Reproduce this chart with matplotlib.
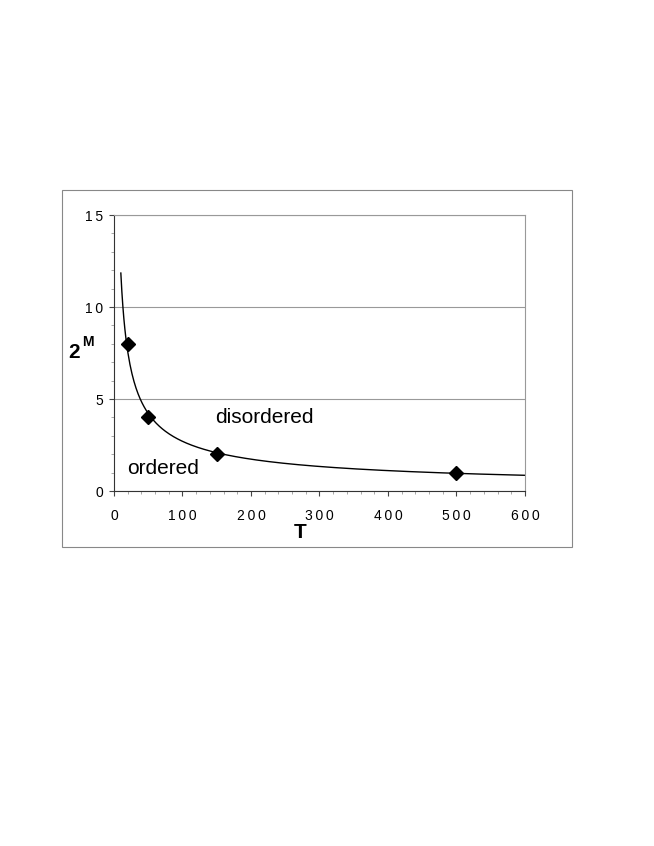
import numpy as np
import matplotlib
matplotlib.use("Agg")
import matplotlib.pyplot as plt
import matplotlib.ticker as ticker
from matplotlib.patches import Rectangle

plt.rcParams['font.family'] = ['Liberation Sans', 'DejaVu Sans']

# data points (T, 2^M)
T_pts = [20, 50, 150, 500]
M_pts = [8, 4, 2, 1]

x_ticks = [0, 100, 200, 300, 400, 500, 600]
y_ticks = [0, 5, 10, 15]

# power-law trendline fitted to the points (like the spreadsheet trendline)
b, log_a = np.polyfit(np.log(T_pts), np.log(M_pts), 1)
T_fit = np.linspace(10, 600, 400)
M_fit = np.exp(log_a) * T_fit ** b


def spaced(v):
    # spreadsheet-style letter spacing in tick labels
    return '\u2009'.join(str(v))


fig = plt.figure(figsize=(6.54, 8.46), dpi=100)
fig.patches.append(Rectangle((0.0948, 0.3534), 0.7798, 0.422, transform=fig.transFigure,
                             fill=False, edgecolor='#888888', linewidth=0.8))

ax = fig.add_axes([0.1743, 0.4196, 0.6284, 0.3262])
ax.plot(T_fit, M_fit, color='black', linewidth=1.0)
ax.plot(T_pts, M_pts, linestyle='none', marker='D', markersize=7, color='black')

ax.set_xlim(0, 600)
ax.set_ylim(0, 15)
ax.set_xticks(x_ticks)
ax.set_xticklabels([spaced(v) for v in x_ticks])
ax.set_yticks(y_ticks)
ax.set_yticklabels([spaced(v) for v in y_ticks])
ax.xaxis.set_minor_locator(ticker.MultipleLocator(20))
ax.yaxis.set_minor_locator(ticker.MultipleLocator(1))
ax.tick_params(which='both', direction='out', labelsize=10, color='#444444')
ax.tick_params(which='major', length=3.5)
ax.tick_params(which='minor', length=2.5, color='#999999')
ax.tick_params(axis='x', pad=9.5)
ax.tick_params(axis='y', pad=4.5)

ax.grid(axis='y', which='major', color='#999999', linewidth=0.8)
ax.set_axisbelow(True)
ax.spines['top'].set_color('#999999')
ax.spines['right'].set_color('#999999')
ax.spines['left'].set_color('#333333')
ax.spines['bottom'].set_color('#333333')

ax.text(147, 4.0, 'disordered', fontsize=15, va='center', ha='left')
ax.text(19, 1.2, 'ordered', fontsize=15, va='center', ha='left')

fig.text(0.4587, 0.371, 'T', fontsize=15, fontweight='bold', ha='center', va='center')
fig.text(0.1135, 0.5835, '2', fontsize=15, fontweight='bold', ha='center', va='center')
fig.text(0.1345, 0.5955, 'M', fontsize=10, fontweight='bold', ha='center', va='center')

fig.savefig('out.png', dpi=100)
